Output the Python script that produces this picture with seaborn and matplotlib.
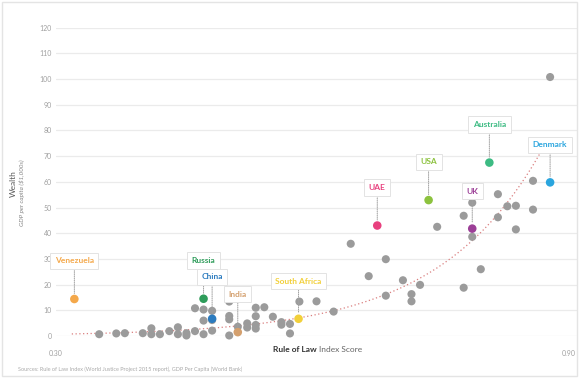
import numpy as np
import pandas as pd
import matplotlib
matplotlib.use("Agg")
import matplotlib.pyplot as plt
import seaborn as sns
from matplotlib.patches import Rectangle

# Rule of Law score vs GDP per capita ($1,000s)
gray_x = [
    0.351, 0.371, 0.381, 0.402, 0.412, 0.412, 0.422, 0.433, 0.443, 0.443,
    0.453, 0.453, 0.463, 0.463, 0.473, 0.473, 0.473, 0.483, 0.483, 0.483,
    0.503, 0.503, 0.503, 0.503, 0.513, 0.524, 0.524, 0.534, 0.534, 0.534,
    0.534, 0.544, 0.554, 0.564, 0.564, 0.574, 0.574, 0.585, 0.605, 0.625,
    0.645, 0.666, 0.686, 0.686, 0.706, 0.716, 0.716, 0.726, 0.746, 0.777,
    0.777, 0.787, 0.787, 0.797, 0.817, 0.817, 0.828, 0.838, 0.838, 0.858,
    0.858, 0.878,
]
gray_y = [
    0.7, 1.0, 1.1, 1.1, 3.0, 0.7, 0.7, 1.9, 3.4, 0.7,
    1.1, 0.2, 1.9, 10.8, 10.3, 6.0, 0.7, 9.8, 6.2, 2.1,
    13.4, 7.8, 6.5, 0.2, 3.6, 4.9, 3.3, 11.0, 7.7, 4.3,
    2.9, 11.2, 7.5, 5.4, 4.4, 4.7, 1.0, 13.4, 13.5, 9.5,
    35.9, 23.3, 29.9, 15.7, 21.7, 16.3, 13.5, 19.9, 42.5, 46.8,
    18.8, 51.9, 38.6, 26.0, 55.2, 46.2, 50.5, 50.7, 41.5, 60.4,
    49.2, 100.8,
]

countries = ["Venezuela", "Russia", "China", "India", "South Africa",
             "UAE", "USA", "UK", "Australia", "Denmark"]
country_x = [0.322, 0.473, 0.483, 0.513, 0.584, 0.676, 0.736, 0.787, 0.807, 0.878]
country_y = [14.4, 14.5, 6.7, 1.5, 6.7, 43.0, 52.9, 41.8, 67.5, 59.8]
label_y = [29.2, 29.4, 23.1, 16.2, 21.3, 57.8, 67.8, 56.4, 82.3, 74.5]
colors = ["#F4A84A", "#2E9C5A", "#2B7BBF", "#D4A06E", "#F2D03A",
          "#E8407E", "#8CC23E", "#9C3F97", "#3DBB83", "#2AA5DE"]

# exponential trend line: y = a * exp(b * x)
trend_a = 0.0585
trend_b = 8.2
trend_range = (0.319, 0.870)

y_ticks = [0, 10, 20, 30, 40, 50, 60, 70, 80, 90, 100, 110, 120]
x_ticks = [0.30, 0.90]

gray_df = pd.DataFrame({"score": gray_x, "gdp": gray_y})
hl_df = pd.DataFrame({"score": country_x, "gdp": country_y, "country": countries})

sns.set_style("white")
plt.rcParams["font.family"] = ["Lato", "DejaVu Sans"]

fig = plt.figure(figsize=(5.79, 3.78), dpi=100)
ax = fig.add_axes([0.0959, 0.1111, 0.9006, 0.8156])

for y in y_ticks:
    ax.axhline(y, color="#EBEBEB", lw=0.9, zorder=0)

tx = np.linspace(trend_range[0], trend_range[1], 200)
ax.plot(tx, trend_a * np.exp(trend_b * tx), ls=(0, (1, 2)), color="#DA7F7F",
        lw=0.9, zorder=1)

sns.scatterplot(data=gray_df, x="score", y="gdp", color="#9B9B9B", s=34,
                edgecolor="none", ax=ax, zorder=2, clip_on=False)
sns.scatterplot(data=hl_df, x="score", y="gdp", hue="country",
                palette=dict(zip(countries, colors)), s=38, edgecolor="none",
                ax=ax, zorder=4, legend=False, clip_on=False)

for name, x, y, ly, c in zip(countries, country_x, country_y, label_y, colors):
    ax.annotate(name, xy=(x, y), xytext=(x, ly), ha="center", va="center",
                fontsize=6, fontweight="bold", color=c, zorder=5,
                bbox=dict(boxstyle="square,pad=0.55", fc="white", ec="#E3E3E3", lw=0.7),
                arrowprops=dict(arrowstyle="-", ls=(0, (1, 1.2)), color="#A0A0A0",
                                lw=0.7, shrinkA=0, shrinkB=4))

ax.set_xlim(0.30, 0.9094)
ax.set_ylim(0, 120)
ax.set_xticks(x_ticks)
ax.set_xticklabels(["0.30", "0.90"])
ax.set_yticks(y_ticks)
ax.tick_params(axis="both", length=0, labelsize=5, labelcolor="#A0A0A0")
ax.tick_params(axis="x", pad=10)
ax.tick_params(axis="y", pad=2.5)
ax.set_xlabel("")
ax.set_ylabel("")
sns.despine(ax=ax, left=True, bottom=True)

fig.text(317 / 579, 1 - 350 / 378, "Rule of Law", ha="right", va="center",
         fontsize=6, fontweight="bold", color="#333333")
fig.text(319 / 579, 1 - 350 / 378, "Index Score", ha="left", va="center",
         fontsize=6, color="#666666")
fig.text(13 / 579, 1 - 184 / 378, "Wealth", rotation=90, ha="center", va="center",
         fontsize=6, color="#5A5A5A")
fig.text(22.5 / 579, 1 - 193 / 378, "GDP per capita ($1,000s)", rotation=90,
         ha="center", va="center", fontsize=4.5, style="italic", color="#858585")
fig.text(18 / 579, 1 - 369 / 378,
         "Sources: Rule of Law Index (World Justice Project 2015 report), GDP Per Capita (World Bank)",
         ha="left", va="center", fontsize=4, color="#AAAAAA")

fig.patches.append(Rectangle((0.003, 0.004), 0.994, 0.992, transform=fig.transFigure,
                             fill=False, ec="#E4E4E4", lw=1))

fig.savefig("out.png", dpi=100)
